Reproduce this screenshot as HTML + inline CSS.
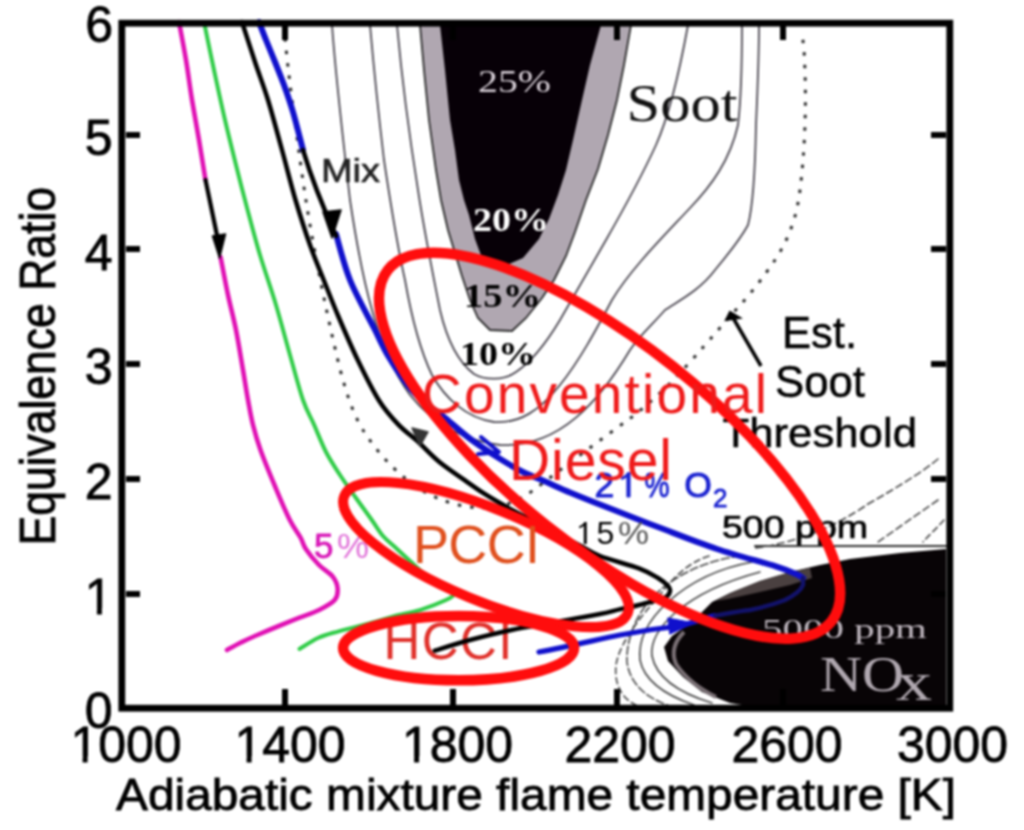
<!DOCTYPE html>
<html><head><meta charset="utf-8"><style>
html,body{margin:0;padding:0;background:#fff;width:1024px;height:830px;overflow:hidden}
svg{display:block;filter:blur(0.9px)}
.s{font-family:"Liberation Sans",sans-serif}
.r{font-family:"Liberation Serif",serif}
</style></head><body>
<svg width="1024" height="830" viewBox="0 0 1024 830">
<rect width="1024" height="830" fill="#fff"/>

<!-- thin contour lines (soot side) -->
<g fill="none" stroke="#4a4650" stroke-width="1.8" stroke-linecap="round">
<!-- U3 (outer) -->
<path d="M332,25 C336,80 342,130 350,200 C356,240 362,275 372,310 C380,340 392,370 410,395 C430,420 460,440 500,445 C560,448 600,400 630,350 C640,335 652,325 665,310 C680,300 700,290 715,270 C725,258 740,240 748,225 C752,210 755,180 756,125 C758,80 759,50 759,25"/>
<!-- U2 -->
<path d="M370,25 C374,70 378,110 384,160 C390,200 396,240 405,280 C412,320 420,350 432,375 C445,398 466,418 494,422 C520,424 540,410 560,385 C580,360 596,330 612,300 C630,270 660,240 690,208 C712,185 730,160 738,125 C741,100 742,60 742,25"/>
<!-- U1 -->
<path d="M397,25 C402,80 410,140 418,190 C424,230 432,270 440,310 C447,340 458,362 474,374 C484,380 504,381 516,372 C534,360 548,340 560,320 C574,296 590,268 606,240 C622,212 640,180 656,145 C668,118 678,80 688,25"/>
</g>

<!-- SOOT ISLAND -->
<path d="M420,25 L424,70 L429,120 L436,170 L441,200 L448,230 L455,253 L462,276 L470,300 L478,318 L490,330 L512,331 L526,318 L542,298 L554,280 L566,256 L575,232 L586,200 L598,169 L608,135 L617,100 L624,65 L631,25 Z" fill="#b0a7b1" stroke="#2a2a2a" stroke-width="1.8"/>
<path d="M440,25 L445,70 L450,120 L455,150 L459,180 L464,200 L469,215 L475,239 L482,258 L500,268 L523,258 L539,239 L549,219 L558,195 L566,170 L573,140 L582,100 L590,65 L601,25 Z" fill="#070007"/>

<!-- NOx region -->
<g>
<path d="M946,549 L900,553 L850,559 L820,565 L790,572 L760,581 L730,593 L712,602 L700,614 L686,626 L672,636 L664,647 L668,661 L683,677 L702,692 L730,703 L760,708 L946,708 Z" fill="#080406"/>
<path d="M810,568 L790,572 L760,581 L735,591 L715,601 L728,599 L760,592 L790,585 L812,578 Z" fill="#4a4040"/>
<path d="M684,632 C674,642 671,652 676,664 C684,676 698,688 716,697" fill="none" stroke="#7a7075" stroke-width="4"/>
</g>
<!-- NOx contour arcs -->
<g fill="none" stroke="#444" stroke-width="1.6" stroke-linecap="round">
<path d="M760,572 C730,580 700,592 676,612 C660,626 650,640 652,656 C656,676 676,692 712,703"/>
<path d="M752,562 C720,568 690,582 668,602 C648,620 638,640 640,660 C644,680 662,694 694,705"/>
<path d="M740,556 C710,560 680,572 658,592 C636,612 626,640 627,662 C630,684 646,698 670,706" stroke-dasharray="8,3"/>
<path d="M709,556 C690,562 676,575 664,590 C645,612 620,640 616,665 C614,685 622,700 640,707" stroke-dasharray="6,4"/>
<path d="M755,546 L946,546" stroke="#333" stroke-width="2.2"/>
<path d="M938,459 C925,470 900,486 868,504 C852,515 830,528 800,538 C780,544 770,546 755,548" stroke-dasharray="7,4"/>
<path d="M938,500 C915,516 895,530 878,542" stroke-dasharray="7,4"/>
<path d="M944,520 C935,530 928,536 923,542" stroke-dasharray="6,4"/>
</g>

<!-- dotted soot threshold -->
<path d="M285,38 C288,70 292,100 296,130 C300,160 304,190 310,225 C318,270 328,320 340,369 C348,400 356,420 365,433 C376,450 390,466 405,478 C425,495 450,506 480,508 C505,508 520,500 535,489 C560,470 600,440 632,417 C660,395 675,378 690,362 C710,340 722,325 733,313 C750,295 765,275 775,260 C790,237 797,215 800,190 C805,150 807,100 804,50 L802,32" fill="none" stroke="#2c2c2c" stroke-width="3" stroke-dasharray="3.5,9"/>

<!-- HCCI text under curves -->
<g class="s"><text x="383.5" y="659" font-size="51" textLength="129" lengthAdjust="spacing" fill="#e0302a">HCCI</text></g>

<!-- CURVES -->
<g fill="none" stroke-linecap="round" stroke-linejoin="round">
<!-- magenta -->
<path d="M179.0,22.0 C180.2,28.3 183.8,47.0 186.0,60.0 C188.2,73.0 189.8,86.7 192.0,100.0 C194.2,113.3 196.8,126.7 199.0,140.0 C201.2,153.3 204.4,173.3 205.5,180.0 M220.5,257.0 C221.8,263.3 225.4,282.8 228.0,295.0 C230.6,307.2 233.5,317.5 236.0,330.0 C238.5,342.5 241.0,358.3 243.0,370.0 C245.0,381.7 246.3,390.8 248.0,400.0 C249.7,409.2 250.9,416.7 253.0,425.0 C255.1,433.3 256.8,439.6 260.5,450.0 C264.2,460.4 270.6,475.8 275.5,487.5 C280.4,499.2 285.6,511.7 289.8,520.0 C294.0,528.3 297.8,532.6 300.5,537.5 C303.2,542.4 302.9,544.7 306.0,549.3 C309.1,553.9 314.6,560.5 319.0,565.0 C323.4,569.5 329.6,572.7 332.7,576.6 C335.8,580.5 337.3,584.5 337.6,588.4 C337.9,592.3 337.8,596.4 334.7,600.0 C331.6,603.6 324.9,607.0 319.0,610.0 C313.1,613.0 306.0,615.1 299.5,617.7 C293.0,620.3 287.4,622.5 280.0,625.5 C272.6,628.5 261.7,633.1 255.0,636.0 C248.3,638.9 244.7,640.7 240.0,643.0 C235.3,645.3 229.2,648.8 227.0,650.0" stroke="#e010b4" stroke-width="4.6"/>
<path d="M205.5,180 L219,245" stroke="#000" stroke-width="4.2"/>
<path d="M212.5,236 L219.5,258 L225.5,234 Z" fill="#000" stroke="#000" stroke-width="1.5"/>
<!-- green -->
<path d="M204.0,22.0 C205.7,30.0 210.5,53.7 214.0,70.0 C217.5,86.3 221.3,104.2 225.0,120.0 C228.7,135.8 232.4,150.5 236.0,165.0 C239.6,179.5 242.8,192.0 246.8,207.0 C250.8,222.0 255.1,238.7 260.0,255.0 C264.9,271.3 271.0,288.3 276.0,305.0 C281.0,321.7 285.5,339.2 290.0,355.0 C294.5,370.8 299.0,388.4 303.0,400.0 C307.0,411.6 310.2,415.9 314.0,424.6 C317.8,433.3 321.7,443.6 326.0,452.0 C330.3,460.4 335.0,467.3 340.0,475.0 C345.0,482.7 350.7,490.5 356.0,498.0 C361.3,505.5 367.3,513.7 371.8,520.0 C376.3,526.3 379.1,531.5 383.0,536.0 C386.9,540.5 390.7,543.1 395.2,547.3 C399.7,551.5 404.5,556.0 410.0,561.0 C415.5,566.0 422.0,572.3 428.0,577.0 C434.0,581.7 441.7,586.2 446.0,589.0 C450.3,591.8 454.0,592.2 454.0,594.0 C454.0,595.8 451.6,597.4 446.0,600.0 C440.4,602.6 429.1,607.1 420.6,609.8 C412.1,612.5 402.6,614.0 395.0,616.0 C387.4,618.0 384.1,619.5 374.7,622.0 C365.3,624.5 348.1,628.6 338.6,631.3 C329.2,634.0 324.5,635.0 318.0,638.0 C311.5,641.0 302.6,647.2 299.5,649.0" stroke="#30cc48" stroke-width="4"/>
<!-- black 15% O2 -->
<path d="M242.0,22.0 C244.2,28.7 250.7,49.0 255.0,62.0 C259.3,75.0 263.5,85.3 268.0,100.0 C272.5,114.7 277.4,133.3 282.0,150.0 C286.6,166.7 290.8,184.2 295.5,200.0 C300.2,215.8 305.3,231.7 310.0,245.0 C314.7,258.3 319.0,268.2 323.7,280.0 C328.4,291.8 332.6,302.8 338.2,316.0 C343.8,329.2 350.7,345.4 357.5,359.5 C364.3,373.6 372.2,389.6 379.0,400.5 C385.8,411.4 391.9,417.8 398.4,424.6 C404.8,431.4 410.9,435.2 417.7,441.4 C424.5,447.6 431.5,455.5 439.4,462.0 C447.3,468.5 457.8,475.3 465.0,480.4 C472.2,485.5 476.8,488.9 482.7,492.7 C488.6,496.5 493.2,499.2 500.3,503.3 C507.4,507.4 516.7,512.5 525.0,517.0 C533.3,521.5 541.0,525.3 550.0,530.0 C559.0,534.7 570.7,540.7 579.0,545.0 C587.3,549.3 590.0,552.1 600.0,556.0 C610.0,559.9 629.3,564.7 639.0,568.4 C648.7,572.1 653.2,575.1 658.0,578.0 C662.8,580.9 666.0,583.8 668.0,586.0 C670.0,588.2 670.6,589.0 670.0,591.0 C669.4,593.0 669.7,595.4 664.5,597.7 C659.3,600.0 646.5,603.0 639.0,605.0 C631.5,607.0 626.0,607.9 619.5,609.4 C613.0,610.9 610.8,611.9 600.0,614.0 C589.2,616.1 569.8,619.3 555.0,622.0 C540.2,624.7 525.6,627.0 511.4,630.0 C497.2,633.0 482.8,636.6 470.0,640.0 C457.2,643.4 440.7,648.8 434.8,650.6" stroke="#000" stroke-width="4.5"/>
<path d="M412,428 L420,446 L428,432 Z" fill="#333" stroke="#333" stroke-width="1.5"/>
<!-- blue 21% O2 -->
<path d="M259.0,22.0 C260.2,25.0 263.3,33.3 266.0,40.0 C268.7,46.7 272.0,54.5 275.0,62.0 C278.0,69.5 281.0,76.7 284.0,85.0 C287.0,93.3 289.8,101.2 293.0,112.0 C296.2,122.8 301.3,143.7 303.0,150.0 M336.0,234.0 C338.3,241.7 343.7,264.3 350.0,280.0 C356.3,295.7 367.5,315.2 374.0,328.0 C380.5,340.8 382.8,347.0 388.8,357.0 C394.8,367.0 403.5,380.0 410.0,388.0 C416.5,396.0 422.3,400.2 428.0,405.0 C433.7,409.8 436.9,411.3 444.0,417.0 C451.1,422.7 461.0,432.0 470.4,439.0 C479.8,446.0 491.5,453.5 500.3,459.0 C509.1,464.5 515.7,468.3 523.0,472.0 C530.3,475.7 536.1,477.6 544.0,481.0 C551.9,484.4 560.3,488.4 570.6,492.7 C580.9,497.0 591.0,501.0 605.7,506.8 C620.4,512.6 640.1,520.3 658.6,527.3 C677.1,534.3 697.5,542.5 717.0,549.0 C736.5,555.5 762.6,562.2 775.8,566.4 C789.0,570.6 791.5,572.1 796.0,574.0 C800.5,575.9 801.8,577.3 803.0,578.0" stroke="#1010cc" stroke-width="6"/>
<path d="M303,150 C312,180 322,205 336,236" stroke="#000" stroke-width="4.5"/>
<path d="M323,212 L332,238 L341,210 Z" fill="#000" stroke="#000" stroke-width="1.5"/>
<path d="M481,437 L499,452 L478,454" stroke="#1010cc" stroke-width="4"/>
<path d="M539,652 C570,646 600,639 620,635 C650,629 670,627 680,626 C695,622 705,618 715,615.6" stroke="#1010cc" stroke-width="5.2"/>
<path d="M668,618 L694,623 L670,634 Z" fill="#1010cc" stroke="#1010cc" stroke-width="1"/>
<path d="M715,615.6 C730,613 740,611 750,610 C765,607 775,604 785,600 C795,595 801,590 803,585 L803,578" stroke="#12126a" stroke-width="4.5"/>
</g>

<path d="M732,316 L761,366" stroke="#000" stroke-width="3.5" fill="none"/>
<path d="M726,320 L730,312 L740,318 Z" fill="#000" stroke="#000" stroke-width="2"/>

<!-- labels -->
<g class="s" fill="#000">
<text x="321" y="182" font-size="33" textLength="59" lengthAdjust="spacingAndGlyphs" fill="#222" stroke="#222" stroke-width="0.6">Mix</text>
<text x="782" y="348" font-size="44" textLength="75" lengthAdjust="spacingAndGlyphs" stroke="#000" stroke-width="0.5">Est.</text>
<text x="775" y="397" font-size="44" textLength="90" lengthAdjust="spacingAndGlyphs" stroke="#000" stroke-width="0.5">Soot</text>
<text x="722.5" y="446.5" font-size="41" textLength="194.5" lengthAdjust="spacingAndGlyphs" stroke="#000" stroke-width="0.5">Threshold</text>
<text x="722" y="538" font-size="31" textLength="146" lengthAdjust="spacingAndGlyphs" stroke="#000" stroke-width="0.7">500 ppm</text>
<path transform="translate(576,544) scale(32,-32)" d="M0.245,0 L0.335,0 L0.335,0.69 L0.265,0.69 C0.235,0.63 0.17,0.58 0.10,0.555 L0.10,0.49 C0.16,0.51 0.21,0.54 0.245,0.57 Z" fill="#000"/><text x="596.5" y="544" font-size="32">5</text><text x="618" y="544" font-size="32" textLength="31" lengthAdjust="spacingAndGlyphs" fill="#555">%</text>
<g fill="#1a22d0" stroke="#1a22d0" stroke-width="0.9"><text x="594.5" y="497" font-size="35.5">2</text><path transform="translate(618.2,497) scale(35.5,-35.5)" d="M0.245,0 L0.335,0 L0.335,0.69 L0.265,0.69 C0.235,0.63 0.17,0.58 0.10,0.555 L0.10,0.49 C0.16,0.51 0.21,0.54 0.245,0.57 Z" fill="#1a22d0" vector-effect="non-scaling-stroke"/><text x="644.5" y="497" font-size="35.5" textLength="25" lengthAdjust="spacingAndGlyphs">%</text><text x="684.2" y="497" font-size="35.5">O</text></g><text x="713" y="507" font-size="26" fill="#1a22d0" stroke="#1a22d0" stroke-width="0.8">2</text>
<text x="314" y="558" font-size="35" fill="#d818b8" stroke="#d818b8" stroke-width="0.8">5</text><text x="337" y="558" font-size="35" textLength="32" lengthAdjust="spacingAndGlyphs" fill="#e070d8">%</text>
</g>
<g class="r">
<text x="626.5" y="121" font-size="52" textLength="111" lengthAdjust="spacingAndGlyphs" fill="#111">Soot</text>
<text x="473" y="231" font-size="34" font-weight="bold" textLength="76" lengthAdjust="spacingAndGlyphs" fill="#fff">20%</text>
<text x="478" y="92" font-size="32" textLength="73" lengthAdjust="spacingAndGlyphs" fill="#d8d0d8">25%</text>
<text x="464" y="307" font-size="34" font-weight="bold" textLength="77" lengthAdjust="spacingAndGlyphs" fill="#000">15%</text>
<text x="460" y="365" font-size="33" font-weight="bold" textLength="76" lengthAdjust="spacingAndGlyphs" fill="#000">10%</text>
<text x="762" y="638" font-size="27" textLength="165" lengthAdjust="spacingAndGlyphs" fill="#c0b8c0">5000 ppm</text>
<text x="820" y="691" font-size="50" textLength="84" lengthAdjust="spacingAndGlyphs" fill="#b0a8b0">NO</text><text x="896" y="700" font-size="54" textLength="36" lengthAdjust="spacingAndGlyphs" fill="#b0a8b0">x</text>
</g>

<!-- RED ELLIPSES -->
<g fill="none" stroke="#ff0d0d">
<ellipse cx="609.6" cy="445.7" rx="283" ry="101.6" transform="rotate(38.4 609.6 445.7)" stroke-width="10.5"/>
<ellipse cx="486" cy="554.6" rx="153.4" ry="46" transform="rotate(22.5 486 554.6)" stroke-width="10"/>
<ellipse cx="458.6" cy="648.1" rx="115.5" ry="32.2" stroke-width="10.5"/>
</g>

<!-- red texts -->
<g class="s" fill="#ef1a1a">
<text x="422" y="413" font-size="55" textLength="345" lengthAdjust="spacing">Conventional</text>
<text x="509" y="480" font-size="57" textLength="163" lengthAdjust="spacing">Diesel</text>
<text x="413" y="563" font-size="54" textLength="127" lengthAdjust="spacing" fill="#e0501e">PCCI</text>
</g>

<!-- AXES -->
<rect x="121.8" y="23.2" width="828" height="685" fill="none" stroke="#000" stroke-width="6.8"/>
<g stroke="#000" stroke-width="6">
<path d="M285,705 V689 M453,705 V689 M617,705 V689 M783,705 V689"/>
<path d="M285,25 V40 M453,25 V40 M617,25 V40 M783,25 V40"/>
<path d="M126,135 H140 M126,249 H140 M126,364 H140 M126,479 H140 M126,594 H140"/>
<path d="M946,135 H931 M946,249 H931 M946,364 H931 M946,479 H931 M946,594 H931"/>
</g>
<g class="s" fill="#000" font-size="50" stroke="#000" stroke-width="0.8">
<g text-anchor="end">
<text x="113" y="41.5">6</text>
<text x="112.5" y="154.5">5</text>
<text x="112.5" y="269.5">4</text>
<text x="112.5" y="383.5">3</text>
<text x="112.5" y="499">2</text>
<text x="112.5" y="614">1</text>
<text x="112.5" y="728">0</text>
</g>
<g text-anchor="middle">
<text x="126" y="762">1000</text>
<text x="290" y="762">1400</text>
<text x="457.5" y="762">1800</text>
<text x="620" y="762">2200</text>
<text x="787" y="762">2600</text>
<text x="952.5" y="762">3000</text>
</g>
<text x="116" y="810" font-size="45" textLength="840" lengthAdjust="spacingAndGlyphs">Adiabatic mixture flame temperature [K]</text>
<text transform="translate(54.5,545.5) scale(1.08,1) rotate(-90)" font-size="46" textLength="358.5" lengthAdjust="spacingAndGlyphs">Equivalence Ratio</text>
</g>
<!-- remove foot of "1" glyphs (Arial-style 1) -->
<g fill="#fff">
<rect x="87.2" y="608.4" width="9.7" height="8"/>
<rect x="101.9" y="608.4" width="9.8" height="8"/>
<rect x="72.9" y="756.4" width="9.7" height="8"/>
<rect x="87.6" y="756.4" width="9.8" height="8"/>
<rect x="236.9" y="756.4" width="9.7" height="8"/>
<rect x="251.6" y="756.4" width="9.8" height="8"/>
<rect x="404.4" y="756.4" width="9.7" height="8"/>
<rect x="419.1" y="756.4" width="9.8" height="8"/>
</g>
</svg>
</body></html>
